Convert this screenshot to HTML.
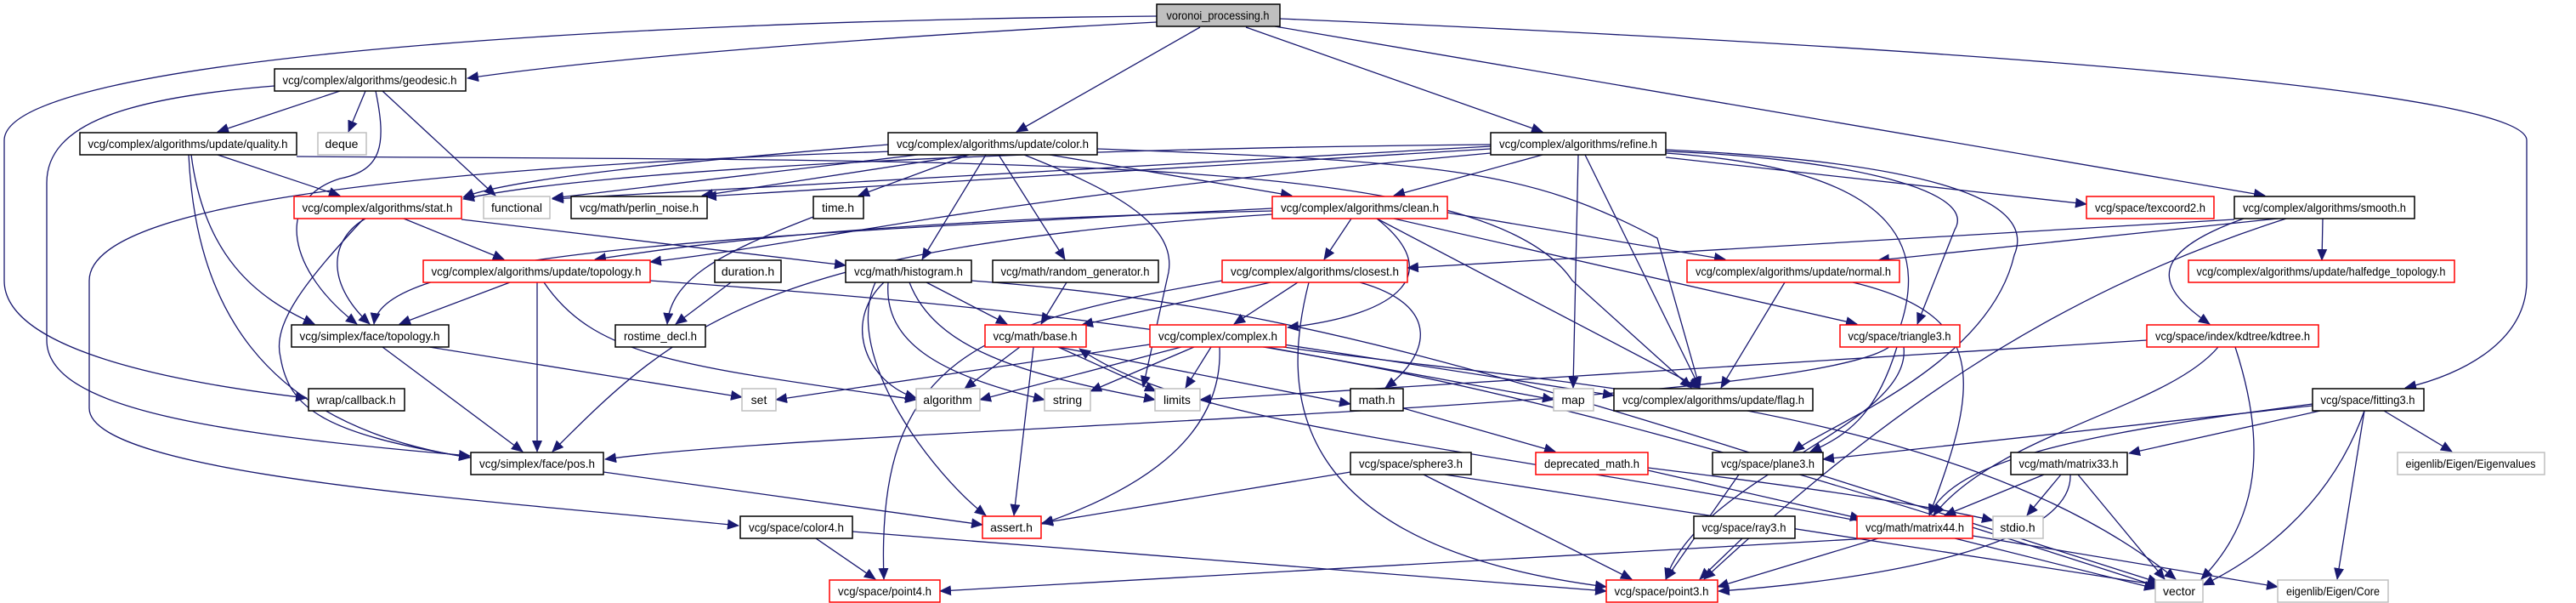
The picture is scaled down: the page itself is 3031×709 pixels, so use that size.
<!DOCTYPE html>
<html><head><meta charset="utf-8"><style>
html,body{margin:0;padding:0;background:#fff;}
svg{display:block;}
text{font-family:"Liberation Sans",sans-serif;font-size:14px;fill:#000;}
</style></head><body>
<svg width="3031" height="709" viewBox="0 0 3031 709" xmlns="http://www.w3.org/2000/svg">
<defs>
<marker id="a" markerUnits="userSpaceOnUse" markerWidth="14" markerHeight="12" refX="13" refY="6" orient="auto">
<path d="M0,0 L14,6 L0,12 Z" fill="#191970"/>
</marker>
</defs>
<g fill="none" stroke="#191970" stroke-width="1.3" marker-end="url(#a)">
<path d="M1361,26 C1000,45 700,70 550,92"/>
<path d="M1361,19 C700,25 5,70 5,165 L5,330 C5,420 250,455 361,468"/>
<path d="M1412,32 L1196,155"/>
<path d="M1466,32 L1815,155"/>
<path d="M1500,31 L2665,230"/>
<path d="M1506,22 C2400,60 2973,110 2973,165 L2973,330 C2973,400 2900,440 2830,456"/>
<path d="M400,107 L256,155"/>
<path d="M430,107 L410,155"/>
<path d="M450,107 L583,230"/>
<path d="M442,107 C455,170 450,200 400,210 C320,235 340,320 420,381"/>
<path d="M323,101 C150,115 55,145 55,215 L55,400 C55,480 250,510 553,536"/>
<path d="M256,182 L400,230"/>
<path d="M225,182 C240,300 300,350 370,381"/>
<path d="M222,182 C230,350 300,500 553,538"/>
<path d="M349,184 C1200,190 1750,180 1850,330 L1990,456"/>
<path d="M430,257 C390,280 380,330 435,381"/>
<path d="M428,257 C360,330 320,380 330,420 C340,480 380,510 553,538"/>
<path d="M475,257 L593,305"/>
<path d="M543,258 L995,312"/>
<path d="M1045,170 C800,190 600,210 545,232"/>
<path d="M1080,182 L650,233"/>
<path d="M1140,182 L826,230"/>
<path d="M1140,182 L1010,230"/>
<path d="M1160,182 L1085,305"/>
<path d="M1175,182 L1253,305"/>
<path d="M1235,182 L1520,230"/>
<path d="M1205,182 C1300,220 1385,260 1375,320 L1345,455"/>
<path d="M1050,178 C400,200 105,250 105,330 L105,480 C105,560 600,590 869,618"/>
<path d="M1291,175 C1700,190 1800,200 1950,280 L2000,456"/>
<path d="M1754,170 C1200,175 700,200 545,234"/>
<path d="M1754,172 L650,234"/>
<path d="M1754,175 L830,231"/>
<path d="M1815,182 L1640,230"/>
<path d="M1857,182 L1851,456"/>
<path d="M1865,182 L2000,456"/>
<path d="M1960,185 L2455,240"/>
<path d="M1960,178 C2150,185 2330,220 2300,270 L2256,381"/>
<path d="M1960,176 C2250,190 2400,230 2370,300 C2340,430 2150,500 2110,531"/>
<path d="M1960,180 C2250,200 2270,300 2230,400 C2200,480 1000,500 712,540"/>
<path d="M1754,180 C1100,240 1000,280 765,308"/>
<path d="M1590,257 L1558,305"/>
<path d="M1703,250 L2030,305"/>
<path d="M1640,257 L2185,381"/>
<path d="M1620,257 L2000,456"/>
<path d="M1497,248 C1000,260 800,290 700,305"/>
<path d="M1497,245 C800,280 450,300 440,381"/>
<path d="M1497,252 C900,290 800,380 650,531"/>
<path d="M1620,257 C1700,320 1650,370 1515,385"/>
<path d="M1495,332 L1273,382"/>
<path d="M1527,332 L1452,381"/>
<path d="M1600,332 C1700,360 1680,420 1630,456"/>
<path d="M1540,332 C1510,450 1500,640 1890,690"/>
<path d="M1438,330 C1150,380 1030,420 1040,681"/>
<path d="M600,332 L470,381"/>
<path d="M632,332 L632,531"/>
<path d="M640,332 C700,420 800,430 1078,470"/>
<path d="M765,330 C1500,380 1800,450 2540,690"/>
<path d="M860,332 L795,381"/>
<path d="M957,255 C840,300 790,330 785,381"/>
<path d="M1090,332 L1185,381"/>
<path d="M1040,332 C990,380 1020,450 1078,468"/>
<path d="M1045,332 C1040,400 1100,440 1229,470"/>
<path d="M1070,332 C1100,410 1200,440 1359,470"/>
<path d="M1030,332 C990,420 1100,560 1160,606"/>
<path d="M1143,330 C1550,360 1800,450 2540,685"/>
<path d="M1255,332 L1225,381"/>
<path d="M1200,408 L1135,457"/>
<path d="M1245,408 L1360,460"/>
<path d="M1216,408 L1193,606"/>
<path d="M1245,408 L1589,475"/>
<path d="M1390,408 L1153,470"/>
<path d="M1405,408 L1283,460"/>
<path d="M1425,408 L1395,456"/>
<path d="M1435,408 C1440,520 1330,580 1226,616"/>
<path d="M1353,405 L913,470"/>
<path d="M1490,408 L1828,470"/>
<path d="M1510,405 L1899,465"/>
<path d="M1510,408 C1800,450 2300,470 2560,681"/>
<path d="M505,408 L873,467"/>
<path d="M450,408 L615,531"/>
<path d="M710,555 L1156,617"/>
<path d="M2526,400 L1412,470"/>
<path d="M2630,408 C2660,500 2670,600 2590,681"/>
<path d="M2610,408 C2550,480 2350,510 2275,606"/>
<path d="M2232,408 C2210,480 2180,510 2130,531"/>
<path d="M2240,408 C2250,500 2000,560 1960,681"/>
<path d="M2629,258 L1656,315"/>
<path d="M2680,257 L2210,306"/>
<path d="M2733,257 L2732,306"/>
<path d="M2640,257 C2520,300 2540,340 2600,381"/>
<path d="M2690,257 C2400,350 2200,500 2005,681"/>
<path d="M2100,332 L2025,456"/>
<path d="M2180,332 C2340,370 2330,450 2270,606"/>
<path d="M2721,477 L2145,540"/>
<path d="M2730,483 L2505,533"/>
<path d="M2805,483 L2885,531"/>
<path d="M2782,483 L2750,681"/>
<path d="M2782,483 C2740,600 2650,660 2592,688"/>
<path d="M2721,475 C2450,510 2300,540 2270,606"/>
<path d="M2405,558 L2288,606"/>
<path d="M2425,558 L2385,606"/>
<path d="M2445,558 L2547,681"/>
<path d="M2436,558 C2440,660 2100,690 2022,695"/>
<path d="M2200,633 L1106,695"/>
<path d="M2210,633 L2021,690"/>
<path d="M2300,633 L2536,692"/>
<path d="M2321,630 L2680,690"/>
<path d="M2050,633 L2000,681"/>
<path d="M2046,558 L1960,681"/>
<path d="M1589,555 L1226,615"/>
<path d="M1675,558 L1920,681"/>
<path d="M1700,558 L2540,688"/>
<path d="M960,633 L1030,681"/>
<path d="M1003,625 L1890,695"/>
<path d="M1651,480 L1830,531"/>
<path d="M1939,553 L2190,610"/>
<path d="M2185,612 C1700,520 1400,500 1270,410"/>
<path d="M1939,550 C2100,570 2250,590 2345,612"/>
</g>
<g stroke-width="1.5">
<rect x="1361" y="5" width="145" height="26" fill="#bfbfbf" stroke="#000"/>
<rect x="323" y="81" width="225" height="26" fill="#fff" stroke="#000"/>
<rect x="94" y="156" width="255" height="26" fill="#fff" stroke="#000"/>
<rect x="374" y="156" width="57" height="26" fill="#fff" stroke="#bfbfbf"/>
<rect x="1045" y="156" width="246" height="26" fill="#fff" stroke="#000"/>
<rect x="1754" y="156" width="206" height="26" fill="#fff" stroke="#000"/>
<rect x="346" y="231" width="197" height="26" fill="#fff" stroke="#f00"/>
<rect x="569" y="231" width="78" height="26" fill="#fff" stroke="#bfbfbf"/>
<rect x="672" y="231" width="160" height="26" fill="#fff" stroke="#000"/>
<rect x="957" y="231" width="59" height="26" fill="#fff" stroke="#000"/>
<rect x="1497" y="231" width="206" height="26" fill="#fff" stroke="#f00"/>
<rect x="2455" y="231" width="150" height="26" fill="#fff" stroke="#f00"/>
<rect x="2629" y="231" width="212" height="26" fill="#fff" stroke="#000"/>
<rect x="498" y="306" width="267" height="26" fill="#fff" stroke="#f00"/>
<rect x="841" y="306" width="78" height="26" fill="#fff" stroke="#000"/>
<rect x="995" y="306" width="148" height="26" fill="#fff" stroke="#000"/>
<rect x="1168" y="306" width="195" height="26" fill="#fff" stroke="#000"/>
<rect x="1438" y="306" width="218" height="26" fill="#fff" stroke="#f00"/>
<rect x="1985" y="306" width="250" height="26" fill="#fff" stroke="#f00"/>
<rect x="2575" y="306" width="313" height="26" fill="#fff" stroke="#f00"/>
<rect x="343" y="382" width="185" height="26" fill="#fff" stroke="#000"/>
<rect x="724" y="382" width="106" height="26" fill="#fff" stroke="#000"/>
<rect x="1159" y="382" width="119" height="26" fill="#fff" stroke="#f00"/>
<rect x="1353" y="382" width="160" height="26" fill="#fff" stroke="#f00"/>
<rect x="2165" y="382" width="141" height="26" fill="#fff" stroke="#f00"/>
<rect x="2526" y="382" width="202" height="26" fill="#fff" stroke="#f00"/>
<rect x="363" y="457" width="113" height="26" fill="#fff" stroke="#000"/>
<rect x="873" y="457" width="40" height="26" fill="#fff" stroke="#bfbfbf"/>
<rect x="1078" y="457" width="75" height="26" fill="#fff" stroke="#bfbfbf"/>
<rect x="1229" y="457" width="54" height="26" fill="#fff" stroke="#bfbfbf"/>
<rect x="1359" y="457" width="53" height="26" fill="#fff" stroke="#bfbfbf"/>
<rect x="1589" y="457" width="62" height="26" fill="#fff" stroke="#000"/>
<rect x="1828" y="457" width="47" height="26" fill="#fff" stroke="#bfbfbf"/>
<rect x="1899" y="457" width="234" height="26" fill="#fff" stroke="#000"/>
<rect x="2721" y="457" width="131" height="26" fill="#fff" stroke="#000"/>
<rect x="554" y="532" width="156" height="26" fill="#fff" stroke="#000"/>
<rect x="1589" y="532" width="142" height="26" fill="#fff" stroke="#000"/>
<rect x="1807" y="532" width="132" height="26" fill="#fff" stroke="#f00"/>
<rect x="2015" y="532" width="130" height="26" fill="#fff" stroke="#000"/>
<rect x="2366" y="532" width="137" height="26" fill="#fff" stroke="#000"/>
<rect x="2821" y="532" width="173" height="26" fill="#fff" stroke="#bfbfbf"/>
<rect x="871" y="607" width="132" height="26" fill="#fff" stroke="#000"/>
<rect x="1156" y="607" width="69" height="26" fill="#fff" stroke="#f00"/>
<rect x="1993" y="607" width="119" height="26" fill="#fff" stroke="#000"/>
<rect x="2185" y="607" width="136" height="26" fill="#fff" stroke="#f00"/>
<rect x="2345" y="607" width="59" height="26" fill="#fff" stroke="#bfbfbf"/>
<rect x="976" y="682" width="130" height="26" fill="#fff" stroke="#f00"/>
<rect x="1890" y="682" width="131" height="26" fill="#fff" stroke="#f00"/>
<rect x="2536" y="682" width="56" height="26" fill="#fff" stroke="#bfbfbf"/>
<rect x="2680" y="682" width="130" height="26" fill="#fff" stroke="#bfbfbf"/>
</g>
<g text-anchor="middle">
<text x="1433" y="23" textLength="121" lengthAdjust="spacingAndGlyphs">voronoi_processing.h</text>
<text x="435" y="99" textLength="205" lengthAdjust="spacingAndGlyphs">vcg/complex/algorithms/geodesic.h</text>
<text x="221" y="174" textLength="235" lengthAdjust="spacingAndGlyphs">vcg/complex/algorithms/update/quality.h</text>
<text x="402" y="174">deque</text>
<text x="1168" y="174" textLength="226" lengthAdjust="spacingAndGlyphs">vcg/complex/algorithms/update/color.h</text>
<text x="1857" y="174" textLength="186" lengthAdjust="spacingAndGlyphs">vcg/complex/algorithms/refine.h</text>
<text x="444" y="249" textLength="177" lengthAdjust="spacingAndGlyphs">vcg/complex/algorithms/stat.h</text>
<text x="608" y="249">functional</text>
<text x="752" y="249" textLength="140" lengthAdjust="spacingAndGlyphs">vcg/math/perlin_noise.h</text>
<text x="986" y="249">time.h</text>
<text x="1600" y="249" textLength="186" lengthAdjust="spacingAndGlyphs">vcg/complex/algorithms/clean.h</text>
<text x="2530" y="249" textLength="130" lengthAdjust="spacingAndGlyphs">vcg/space/texcoord2.h</text>
<text x="2735" y="249" textLength="192" lengthAdjust="spacingAndGlyphs">vcg/complex/algorithms/smooth.h</text>
<text x="631" y="324" textLength="247" lengthAdjust="spacingAndGlyphs">vcg/complex/algorithms/update/topology.h</text>
<text x="880" y="324">duration.h</text>
<text x="1069" y="324" textLength="128" lengthAdjust="spacingAndGlyphs">vcg/math/histogram.h</text>
<text x="1265" y="324" textLength="175" lengthAdjust="spacingAndGlyphs">vcg/math/random_generator.h</text>
<text x="1547" y="324" textLength="198" lengthAdjust="spacingAndGlyphs">vcg/complex/algorithms/closest.h</text>
<text x="2110" y="324" textLength="230" lengthAdjust="spacingAndGlyphs">vcg/complex/algorithms/update/normal.h</text>
<text x="2731" y="324" textLength="293" lengthAdjust="spacingAndGlyphs">vcg/complex/algorithms/update/halfedge_topology.h</text>
<text x="435" y="400" textLength="165" lengthAdjust="spacingAndGlyphs">vcg/simplex/face/topology.h</text>
<text x="777" y="400" textLength="86" lengthAdjust="spacingAndGlyphs">rostime_decl.h</text>
<text x="1218" y="400" textLength="99" lengthAdjust="spacingAndGlyphs">vcg/math/base.h</text>
<text x="1433" y="400" textLength="140" lengthAdjust="spacingAndGlyphs">vcg/complex/complex.h</text>
<text x="2235" y="400" textLength="121" lengthAdjust="spacingAndGlyphs">vcg/space/triangle3.h</text>
<text x="2627" y="400" textLength="182" lengthAdjust="spacingAndGlyphs">vcg/space/index/kdtree/kdtree.h</text>
<text x="419" y="475" textLength="93" lengthAdjust="spacingAndGlyphs">wrap/callback.h</text>
<text x="893" y="475">set</text>
<text x="1115" y="475">algorithm</text>
<text x="1256" y="475">string</text>
<text x="1385" y="475">limits</text>
<text x="1620" y="475">math.h</text>
<text x="1851" y="475">map</text>
<text x="2016" y="475" textLength="214" lengthAdjust="spacingAndGlyphs">vcg/complex/algorithms/update/flag.h</text>
<text x="2786" y="475" textLength="111" lengthAdjust="spacingAndGlyphs">vcg/space/fitting3.h</text>
<text x="632" y="550" textLength="136" lengthAdjust="spacingAndGlyphs">vcg/simplex/face/pos.h</text>
<text x="1660" y="550" textLength="122" lengthAdjust="spacingAndGlyphs">vcg/space/sphere3.h</text>
<text x="1873" y="550" textLength="112" lengthAdjust="spacingAndGlyphs">deprecated_math.h</text>
<text x="2080" y="550" textLength="110" lengthAdjust="spacingAndGlyphs">vcg/space/plane3.h</text>
<text x="2434" y="550" textLength="117" lengthAdjust="spacingAndGlyphs">vcg/math/matrix33.h</text>
<text x="2907" y="550" textLength="153" lengthAdjust="spacingAndGlyphs">eigenlib/Eigen/Eigenvalues</text>
<text x="937" y="625" textLength="112" lengthAdjust="spacingAndGlyphs">vcg/space/color4.h</text>
<text x="1190" y="625">assert.h</text>
<text x="2052" y="625" textLength="99" lengthAdjust="spacingAndGlyphs">vcg/space/ray3.h</text>
<text x="2253" y="625" textLength="116" lengthAdjust="spacingAndGlyphs">vcg/math/matrix44.h</text>
<text x="2374" y="625">stdio.h</text>
<text x="1041" y="700" textLength="110" lengthAdjust="spacingAndGlyphs">vcg/space/point4.h</text>
<text x="1955" y="700" textLength="111" lengthAdjust="spacingAndGlyphs">vcg/space/point3.h</text>
<text x="2564" y="700">vector</text>
<text x="2745" y="700" textLength="110" lengthAdjust="spacingAndGlyphs">eigenlib/Eigen/Core</text>
</g>
</svg>
</body></html>
